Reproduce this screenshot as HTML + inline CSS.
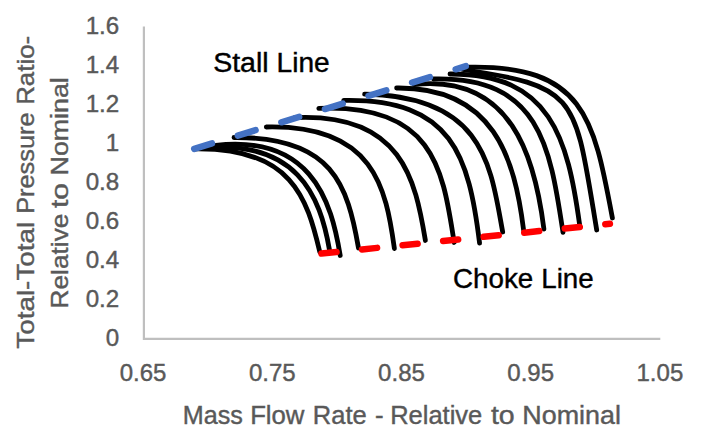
<!DOCTYPE html>
<html><head><meta charset="utf-8"><style>
html,body{margin:0;padding:0;background:#fff;}
svg{display:block;}
text{font-family:"Liberation Sans",sans-serif;}
</style></head><body>
<svg width="710" height="446" viewBox="0 0 710 446">
<rect width="710" height="446" fill="#fff"/>
<path d="M143.9,26.5 V338.8 H660.3" fill="none" stroke="#bfbfbf" stroke-width="2.2"/>
<g fill="#595959" stroke="#595959" stroke-width="0.4" font-size="23"><text transform="translate(119.2,345.9) scale(1.05,1)" text-anchor="end">0</text><text transform="translate(119.2,306.9) scale(1.05,1)" text-anchor="end">0.2</text><text transform="translate(119.2,267.9) scale(1.05,1)" text-anchor="end">0.4</text><text transform="translate(119.2,228.9) scale(1.05,1)" text-anchor="end">0.6</text><text transform="translate(119.2,189.9) scale(1.05,1)" text-anchor="end">0.8</text><text transform="translate(119.2,150.9) scale(1.05,1)" text-anchor="end">1</text><text transform="translate(119.2,111.9) scale(1.05,1)" text-anchor="end">1.2</text><text transform="translate(119.2,72.9) scale(1.05,1)" text-anchor="end">1.4</text><text transform="translate(119.2,33.9) scale(1.05,1)" text-anchor="end">1.6</text><text transform="translate(143.1,380.5) scale(1.045,1)" text-anchor="middle">0.65</text><text transform="translate(272.3,380.5) scale(1.045,1)" text-anchor="middle">0.75</text><text transform="translate(401.5,380.5) scale(1.045,1)" text-anchor="middle">0.85</text><text transform="translate(530.7,380.5) scale(1.045,1)" text-anchor="middle">0.95</text><text transform="translate(659.9,380.5) scale(1.045,1)" text-anchor="middle">1.05</text></g>
<text transform="translate(182.79,423.8) scale(1.0053,1)" font-size="25" fill="#595959" stroke="#595959" stroke-width="0.4">Mass</text><text transform="translate(250.14,423.8) scale(1.0294,1)" font-size="25" fill="#595959" stroke="#595959" stroke-width="0.4">Flow</text><text transform="translate(312.76,423.8) scale(1.0220,1)" font-size="25" fill="#595959" stroke="#595959" stroke-width="0.4">Rate</text><text transform="translate(374.97,423.8) scale(1.0333,1)" font-size="25" fill="#595959" stroke="#595959" stroke-width="0.4">-</text><text transform="translate(390.16,423.8) scale(1.0205,1)" font-size="25" fill="#595959" stroke="#595959" stroke-width="0.4">Relative</text><text transform="translate(490.90,423.8) scale(1.1400,1)" font-size="25" fill="#595959" stroke="#595959" stroke-width="0.4">to</text><text transform="translate(522.35,423.8) scale(1.0761,1)" font-size="25" fill="#595959" stroke="#595959" stroke-width="0.4">Nominal</text><text transform="translate(33.5,348.70) rotate(-90) scale(1.2115,1)" font-size="23" fill="#595959" stroke="#595959" stroke-width="0.4">Total-Total</text><text transform="translate(33.5,213.80) rotate(-90) scale(1.1022,1)" font-size="23" fill="#595959" stroke="#595959" stroke-width="0.4">Pressure</text><text transform="translate(33.5,104.85) rotate(-90) scale(1.1254,1)" font-size="23" fill="#595959" stroke="#595959" stroke-width="0.4">Ratio-</text><text transform="translate(68.4,308.49) rotate(-90) scale(1.1438,1)" font-size="23" fill="#595959" stroke="#595959" stroke-width="0.4">Relative</text><text transform="translate(68.4,208.10) rotate(-90) scale(1.3053,1)" font-size="23" fill="#595959" stroke="#595959" stroke-width="0.4">to</text><text transform="translate(68.4,175.43) rotate(-90) scale(1.1642,1)" font-size="23" fill="#595959" stroke="#595959" stroke-width="0.4">Nominal</text><text transform="translate(213.14,72.1) scale(1.0560,1)" font-size="27" fill="#000" stroke="#000" stroke-width="0.4">Stall</text><text transform="translate(276.62,72.1) scale(1.0417,1)" font-size="27" fill="#000" stroke="#000" stroke-width="0.4">Line</text><text transform="translate(453.07,287.7) scale(1.0276,1)" font-size="27" fill="#000" stroke="#000" stroke-width="0.4">Choke</text><text transform="translate(541.25,287.7) scale(1.0271,1)" font-size="27" fill="#000" stroke="#000" stroke-width="0.4">Line</text>
<g fill="none" stroke="#000" stroke-width="4.8" stroke-linecap="round">
<path d="M194.4,148.8 C291.9,147.2 307.1,198.0 319.8,252.0"/>
<path d="M194.4,148.8 C298.4,136.1 320.3,197.4 329.5,250.0"/>
<path d="M194.4,148.8 C313.3,123.7 331.8,205.2 340.2,255.5"/>
<path d="M234.0,137.5 C332.8,136.6 347.6,185.3 358.5,248.0"/>
<path d="M266.3,127.0 C374.3,124.5 386.0,188.0 394.4,248.5"/>
<path d="M294.5,117.6 C402.3,112.5 415.4,180.3 425.4,240.5"/>
<path d="M318.8,108.4 C436.5,103.6 443.1,173.4 454.2,242.5"/>
<path d="M343.7,100.4 C452.7,98.3 468.9,156.6 479.6,243.2"/>
<path d="M364.6,94.2 C485.6,96.2 490.8,168.1 502.7,232.0"/>
<path d="M396.6,88.0 C494.0,86.9 514.6,158.4 523.6,230.0"/>
<path d="M414.0,84.6 C512.0,74.0 535.0,157.7 543.9,229.0"/>
<path d="M433.5,79.0 C540.1,76.5 550.0,146.3 563.0,232.3"/>
<path d="M450.0,74.0 C550.8,73.5 567.7,138.3 579.6,224.5"/>
<path d="M462.5,69.5 C579.7,86.6 574.5,96.3 596.7,230.0"/>
<path d="M467.5,67.2 C584.7,64.5 594.0,119.7 612.4,218.0"/>
</g>
<path d="M194.2,148.8 L465.8,66.2" stroke="#4472c4" stroke-width="6.5" stroke-linecap="round" stroke-dasharray="18.6 26.95" fill="none"/>
<path d="M321.5,253.6 L609.9,223.8" stroke="#ff0000" stroke-width="6.5" stroke-linecap="round" stroke-dasharray="15.1 25.66" fill="none"/>
</svg>
</body></html>
